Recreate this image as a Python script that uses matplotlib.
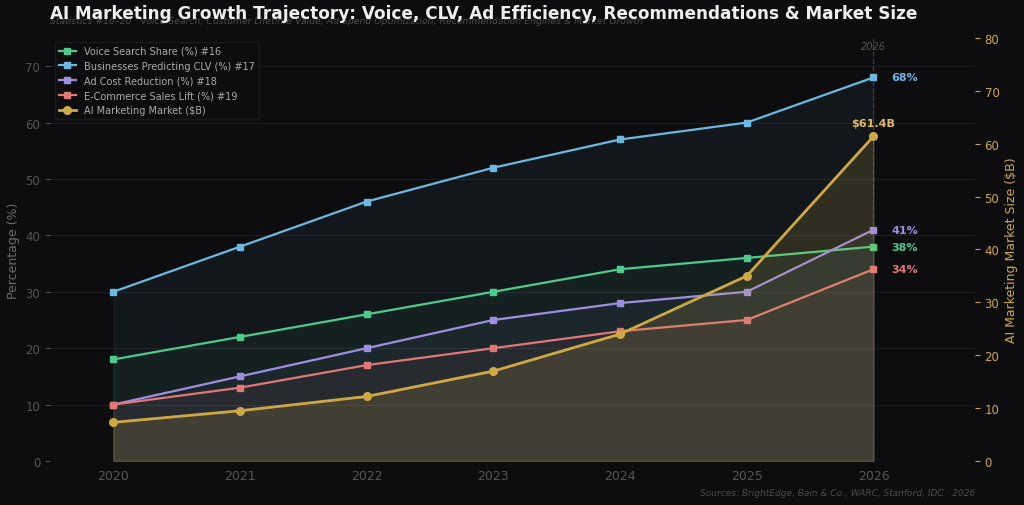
import matplotlib
matplotlib.use("Agg")
import matplotlib.pyplot as plt

# data
years = [2020, 2021, 2022, 2023, 2024, 2025, 2026]
voice_share = [18, 22, 26, 30, 34, 36, 38]
clv_predicting = [30, 38, 46, 52, 57, 60, 68]
ad_cost_reduction = [10, 15, 20, 25, 28, 30, 41]
ecom_sales_lift = [10, 13, 17, 20, 23, 25, 34]
market_size = [7.3, 9.5, 12.2, 17.0, 24.0, 35.0, 61.4]

series = [
    ("Voice Search Share (%) #16", voice_share, "#4ecb8a", "38%"),
    ("Businesses Predicting CLV (%) #17", clv_predicting, "#6cb8e0", "68%"),
    ("Ad Cost Reduction (%) #18", ad_cost_reduction, "#9d8fe0", "41%"),
    ("E-Commerce Sales Lift (%) #19", ecom_sales_lift, "#e07878", "34%"),
]
gold = "#cfa846"
bg = "#0d0d0f"

fig = plt.figure(figsize=(10.24, 5.06), dpi=100, facecolor=bg)
ax = fig.add_axes([0.0488, 0.087, 0.9032, 0.836])
ax.set_facecolor(bg)
ax2 = ax.twinx()

handles = []
for label, vals, col, txt in series:
    ax.fill_between(years, vals, 0, color=col, alpha=0.06, zorder=1)
    h, = ax.plot(years, vals, color=col, lw=1.6, marker="s", ms=4.5, label=label, zorder=3)
    handles.append(h)
    ax.annotate(txt, (years[-1], vals[-1]), xytext=(13, 0), textcoords="offset points",
                color=col, fontsize=8, fontweight="bold", va="center", ha="left")

ax2.fill_between(years, market_size, 0, color=gold, alpha=0.16, zorder=1)
hm, = ax2.plot(years, market_size, color=gold, lw=2.0, marker="o", ms=5.5,
               label="AI Marketing Market ($B)", zorder=3)
handles.append(hm)
ax2.annotate(f"${market_size[-1]}B", (years[-1], market_size[-1]), xytext=(0, 6),
             textcoords="offset points", color="#e0bb60", fontsize=8, fontweight="bold",
             ha="center", va="bottom")

ax.set_xlim(2019.5, 2026.8)
ax.set_ylim(0, 75)
ax2.set_ylim(0, 80)
ax.set_xticks(years)
ax.set_yticks(range(0, 71, 10))
ax2.set_yticks(range(0, 81, 10))

ax.grid(axis="y", color="#1e1e22", lw=0.8)
ax.set_axisbelow(True)
for a in (ax, ax2):
    for s in a.spines.values():
        s.set_visible(False)
ax.tick_params(axis="x", colors="#4a4a50", labelcolor="#555558", labelsize=9, length=0, pad=6)
ax.tick_params(axis="y", colors="#4a4a50", labelcolor="#555558", labelsize=8.5)
ax2.tick_params(axis="y", colors=gold, labelcolor=gold, labelsize=8.5)
ax.set_ylabel("Percentage (%)", color="#6a6a70", fontsize=9)
ax2.set_ylabel("AI Marketing Market Size ($B)", color=gold, fontsize=9)

ax.axvline(2026, color="#3a3a42", lw=1, ls="--", zorder=2)
ax.text(2026, 73.5, "2026", color="#55555c", fontsize=7, style="italic", ha="center", va="center")

leg = ax.legend(handles=handles, loc="upper left", bbox_to_anchor=(0.003, 0.995), fontsize=7,
                facecolor=bg, edgecolor="#1c1c20", labelcolor="#aaaaaa", framealpha=0.9,
                handlelength=1.8, borderpad=0.4, labelspacing=0.5, borderaxespad=0.2)
leg.set_zorder(10)

fig.text(0.0488, 0.972, "AI Marketing Growth Trajectory: Voice, CLV, Ad Efficiency, Recommendations & Market Size",
         color="#eeeeee", fontsize=12.2, fontweight="bold", ha="left", va="center")
fig.text(0.0488, 0.958, "Statistics #16\u201320 \u00b7 Voice Search, Customer Lifetime Value, Ad Spend Optimization, "
         "Recommendation Engines & Market Growth", color="#4a4a50", fontsize=6.7, style="italic",
         ha="left", va="center", zorder=0)
fig.text(0.952, 0.025, "Sources: BrightEdge, Bain & Co., WARC, Stanford, IDC \u00b7 2026",
         color="#4a4a50", fontsize=6.5, style="italic", ha="right", va="center")

fig.savefig("out.png", dpi=100, facecolor=bg)
